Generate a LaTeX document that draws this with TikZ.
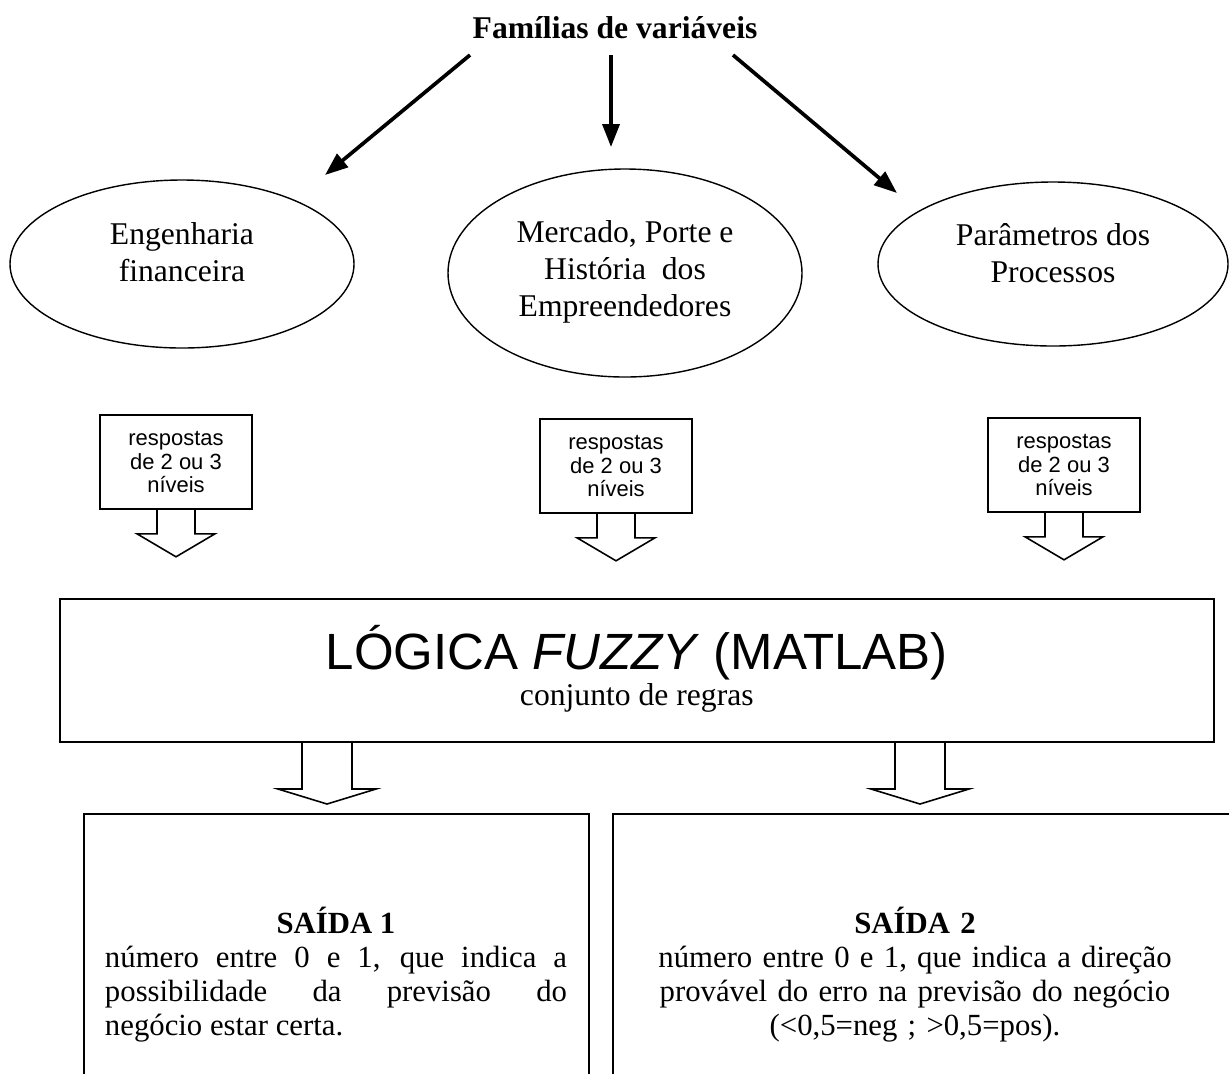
\documentclass[tikz,border=0pt]{standalone}
\usepackage{fontspec}
\setmainfont{Liberation Serif}
\setsansfont{Liberation Sans}
\usetikzlibrary{arrows.meta,shapes.geometric}

\tikzset{
	oval/.style={shape=ellipse, draw=black, line width=0.8pt, inner sep=0pt},
	ovaltext/.style={align=center, font=\fontsize{18}{21}\selectfont},
	fatarrow/.style={line width=2.1pt, -{Triangle[length=4.6mm, width=3.4mm]}},
	callbox/.style={draw=black, line width=0.9pt, minimum width=30.4mm, minimum height=18.8mm, align=center, font=\sffamily\fontsize{12.5}{13.6}\selectfont},
	callarrow/.style={draw=black, line width=0.9pt, line join=miter},
	bigbox/.style={draw=black, line width=0.9pt, anchor=north west},
	outtext/.style={anchor=base, font=\fontsize{17.5}{19.5}\selectfont}
}

\begin{document}
\begin{tikzpicture}[x=0.2mm, y=-0.2mm]
	
	\useasboundingbox (0,0) rectangle (1229,1073);
	\clip (0,0) rectangle (1229,1073);
	
	\node[font=\bfseries\fontsize{18}{21}\selectfont] (fam) at (615,28) {Famílias de variáveis};
	
	% familias
	\node[oval, minimum width=68.8mm, minimum height=33.6mm] (fin) at (182,264) {};
	\node[oval, minimum width=70.8mm, minimum height=41.6mm] (merc) at (625,273) {};
	\node[oval, minimum width=70mm, minimum height=32.8mm] (proc) at (1053,264) {};
	
	\node[ovaltext] (fintxt) at (182,252) {Engenharia\\financeira};
	\node[ovaltext] (merctxt) at (625,272) {Mercado, Porte e\\História~ dos\\Empreendedores};
	\node[ovaltext] (proctxt) at (1053,253) {Parâmetros dos\\Processos};
	
	\coordinate (a1s) at (470,55);
	\coordinate (a1e) at (325,175);
	\coordinate (a2s) at (611,55);
	\coordinate (a2e) at (611,147);
	\coordinate (a3s) at (733,55);
	\coordinate (a3e) at (897,193);
	
	\draw[fatarrow] (a1s) -- (a1e);
	\draw[fatarrow] (a2s) -- (a2e);
	\draw[fatarrow] (a3s) -- (a3e);
	
	% respostas
	\node[callbox] (cb1) at (176,462) {respostas\\de 2 ou 3\\níveis};
	\node[callbox] (cb2) at (616,466) {respostas\\de 2 ou 3\\níveis};
	\node[callbox] (cb3) at (1064,465) {respostas\\de 2 ou 3\\níveis};
	
	\draw[callarrow] (cb1.south) ++(-19,0) -- ++(0,24) -- ++(-20,0) -- ++(39,23) -- ++(39,-23) -- ++(-20,0) -- ++(0,-24);
	\draw[callarrow] (cb2.south) ++(-19,0) -- ++(0,24) -- ++(-20,0) -- ++(39,23) -- ++(39,-23) -- ++(-20,0) -- ++(0,-24);
	\draw[callarrow] (cb3.south) ++(-19,0) -- ++(0,24) -- ++(-20,0) -- ++(39,23) -- ++(39,-23) -- ++(-20,0) -- ++(0,-24);
	
	% logica fuzzy
	\node[bigbox, minimum width=230.8mm, minimum height=28.6mm, font=\fontsize{18}{24.5}\selectfont, align=center] (logica) at (59,598)
	{{\sffamily\fontsize{29}{24.5}\selectfont LÓGICA \textit{FUZZY} (MATLAB)}\\[-4pt]conjunto de regras\\[-19pt]\mbox{}};
	
	\coordinate (o1) at (327,741);
	\coordinate (o2) at (920,741);
	\draw[callarrow] (o1) ++(-25,0) -- ++(0,48) -- ++(-24,0) -- ++(49,15) -- ++(49,-15) -- ++(-24,0) -- ++(0,-48);
	\draw[callarrow] (o2) ++(-25,0) -- ++(0,48) -- ++(-24,0) -- ++(49,15) -- ++(49,-15) -- ++(-24,0) -- ++(0,-48);
	
	% saidas
	\node[bigbox, minimum width=101mm, minimum height=60mm] (out1) at (83,813) {};
	\node[bigbox, minimum width=126mm, minimum height=60mm] (out2) at (612,813) {};
	
	\node[outtext, text width=92.4mm, align=justify] (s1) at (336,933)
	{{\centering\bfseries SAÍDA 1\par}número entre 0 e 1, que indica a\linebreak possibilidade da previsão do\linebreak negócio estar certa.};
	\node[outtext, text width=118mm, align=center] (s2) at (915,933)
	{\textbf{SAÍDA 2}\\número entre 0 e 1, que indica a direção\\provável do erro na previsão do negócio\\(<0,5=neg ; >0,5=pos).};
	
\end{tikzpicture}
\end{document}
